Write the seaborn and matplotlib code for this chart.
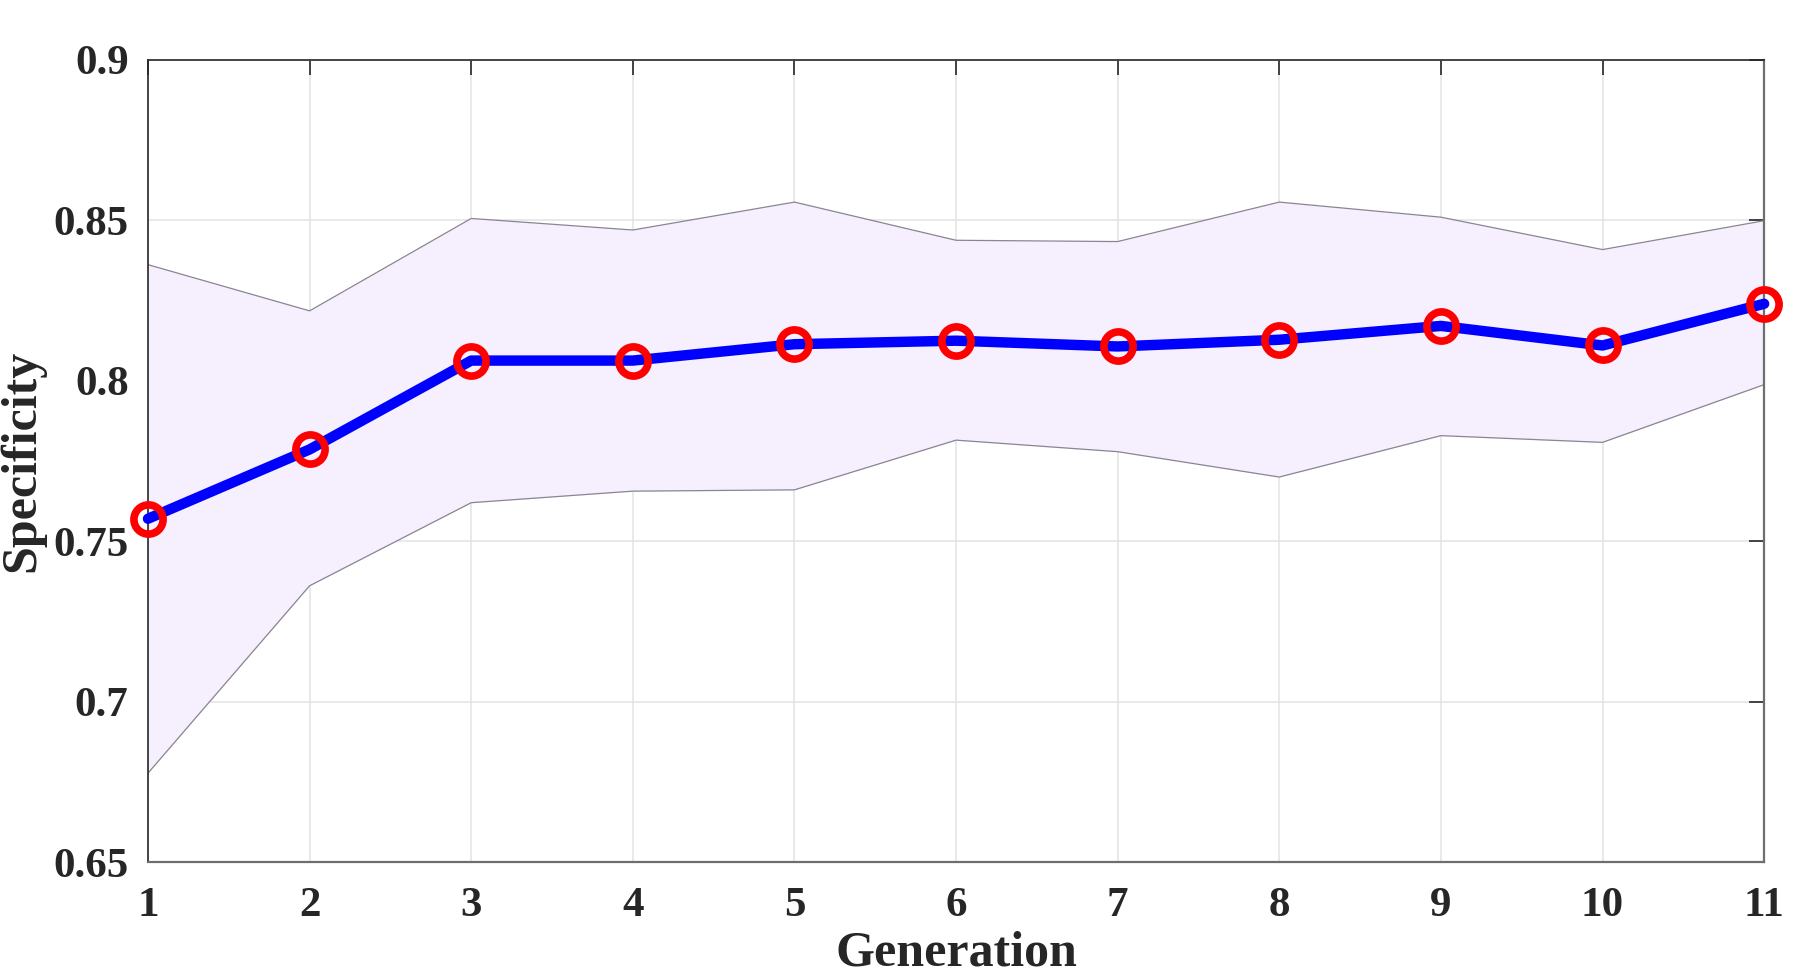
import numpy as np
import pandas as pd
import seaborn as sns
import matplotlib
matplotlib.use("Agg")
import matplotlib.pyplot as plt

# values
generation = [1, 2, 3, 4, 5, 6, 7, 8, 9, 10, 11]
spec_mean = [0.757, 0.7786, 0.8063, 0.8063, 0.8114, 0.8125, 0.8107, 0.8128, 0.8171, 0.811, 0.824]
spec_upper = [0.8362, 0.8218, 0.8506, 0.847, 0.8557, 0.8438, 0.8434, 0.8557, 0.851, 0.8409, 0.8499]
spec_lower = [0.6777, 0.7361, 0.762, 0.7656, 0.766, 0.7815, 0.7779, 0.77, 0.7829, 0.7808, 0.7988]
y_ticks = [0.65, 0.7, 0.75, 0.8, 0.85, 0.9]
y_ticklabels = ["0.65", "0.7", "0.75", "0.8", "0.85", "0.9"]

df = pd.DataFrame({"Generation": generation, "mean": spec_mean,
                   "upper": spec_upper, "lower": spec_lower})

sns.set_style("white")
plt.rcParams["font.family"] = ["Liberation Serif", "DejaVu Serif"]
plt.rcParams["font.weight"] = "bold"

fig = plt.figure(figsize=(18.09, 9.80), dpi=100)
ax = fig.add_axes([0.0818, 0.1204, 0.9752 - 0.0818, 0.9388 - 0.1204])

# shaded band
ax.fill_between(df["Generation"], df["lower"], df["upper"],
                color="#f5effe", linewidth=0, zorder=1)
sns.lineplot(data=df, x="Generation", y="upper", ax=ax, color="#8a8590",
             linewidth=0.9, zorder=2)
sns.lineplot(data=df, x="Generation", y="lower", ax=ax, color="#8a8590",
             linewidth=0.9, zorder=2)

# mean curve
sns.lineplot(data=df, x="Generation", y="mean", ax=ax, color="#0000ff",
             linewidth=7.5, marker="o", markersize=21, markerfacecolor="none",
             markeredgecolor="#ff0000", markeredgewidth=5.5, zorder=5,
             clip_on=False)

ax.set_xlim(1, 11)
ax.set_ylim(0.65, 0.9)
ax.set_xticks(generation)
ax.set_yticks(y_ticks)
ax.set_yticklabels(y_ticklabels)

ax.grid(True, color="#e3e3e3", linewidth=1.1)
ax.set_axisbelow(True)
for side in ["top", "left"]:
    ax.spines[side].set_color("#262626")
    ax.spines[side].set_linewidth(1.2)
for side in ["bottom", "right"]:
    ax.spines[side].set_color("#6e6e6e")
    ax.spines[side].set_linewidth(1.6)

ax.tick_params(axis="both", direction="in", length=11, width=1.2,
               labelsize=31, colors="#262626", top=True, right=True)
ax.tick_params(axis="x", pad=18)
ax.tick_params(axis="y", pad=14)
for lbl in ax.get_xticklabels() + ax.get_yticklabels():
    lbl.set_fontweight("bold")
    lbl.set_color("#262626")

ax.set_xlabel("Generation", fontsize=36, fontweight="bold", color="#262626", labelpad=4)
ax.set_ylabel("Specificity", fontsize=36, fontweight="bold", color="#262626", labelpad=6)

fig.savefig("out.png", dpi=100, facecolor="white")
